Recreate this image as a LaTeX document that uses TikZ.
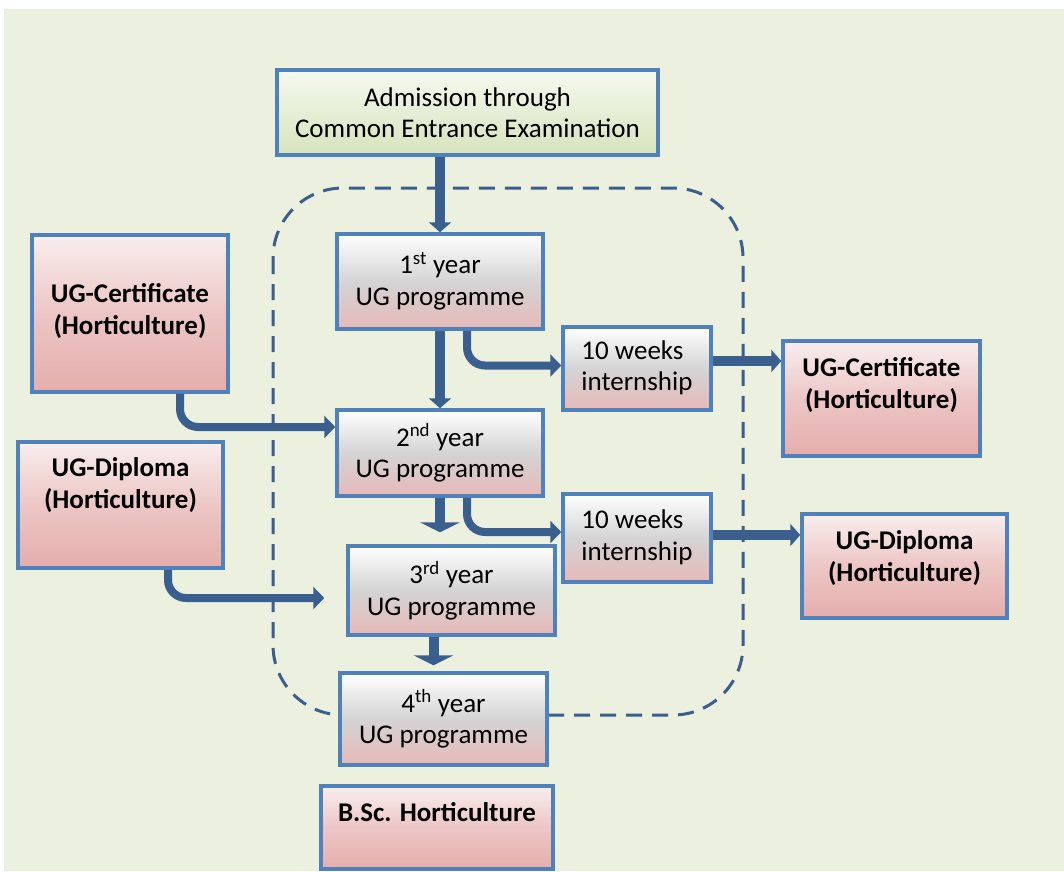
\documentclass[tikz,border=0pt]{standalone}
\usepackage{fontspec}
\setmainfont{Carlito}
\usetikzlibrary{arrows.meta}
\definecolor{pagebg}{HTML}{EBF1DE}
\definecolor{bordc}{HTML}{4F81BD}
\definecolor{arrc}{HTML}{3A5F8E}
\definecolor{yrgray}{HTML}{D4D4D4}
\definecolor{yrpink}{HTML}{E6B9B8}
\definecolor{pktop}{HTML}{F9EEEE}
\definecolor{pkmid}{HTML}{ECC6C5}
\definecolor{pkbot}{HTML}{E4AEAC}
\definecolor{grtop}{HTML}{F6F9F0}
\definecolor{grbot}{HTML}{D6E3BC}
\newcommand\boxfont{\fontsize{27}{31.5}\selectfont}
\tikzset{
  box/.style={draw=bordc, line width=3.5pt, inner sep=0pt, align=center, font=\boxfont},
  greenbox/.style={box, top color=grtop, bottom color=grbot},
  yearbox/.style={box, top color=white, bottom color=yrpink, middle color=yrgray},
  pinkbox/.style={box, top color=pktop, bottom color=pkbot, middle color=pkmid},
  boldtext/.style={inner sep=0pt, align=center, font=\boxfont\bfseries},
  mainarrow/.style={draw=arrc, line width=10pt, -{Triangle[width=22pt,length=10pt]}},
  widearrow/.style={draw=arrc, line width=10pt, -{Triangle[width=40pt,length=10pt]}},
  elbowarrow/.style={draw=arrc, line width=8pt, rounded corners=18pt, -{Triangle[width=22pt,length=11pt]}},
  sidearrow/.style={draw=arrc, line width=10pt, -{Triangle[width=22pt,length=10pt]}},
  groupline/.style={draw=arrc, line width=3pt, dash pattern=on 16pt off 10pt, rounded corners=70pt}
}
\begin{document}
\begin{tikzpicture}[x=1pt,y=-1pt]
  % page and background panel
  \fill[white] (0,0) rectangle (1064,871);
  \useasboundingbox (0,0) rectangle (1064,871);
  \fill[pagebg] (4,9) rectangle (1064,871);

  % dashed outline around the four-year programme
  \draw[groupline] (273,188) rectangle (743,715);

  % boxes
  \node[greenbox, minimum width=381pt, minimum height=85pt] (adm) at (467.5,112.5)
    {Admission through\\Common Entrance Examination};
  \node[yearbox, minimum width=206pt, minimum height=95pt] (y1) at (440,281.5)
    {1\textsuperscript{st} year\\UG programme};
  \node[yearbox, minimum width=206pt, minimum height=86pt] (y2) at (440,453)
    {2\textsuperscript{nd} year\\UG programme};
  \node[yearbox, minimum width=207pt, minimum height=89pt] (y3) at (451.5,590.5)
    {3\textsuperscript{rd} year\\UG programme};
  \node[yearbox, minimum width=207pt, minimum height=92pt] (y4) at (443.5,719)
    {4\textsuperscript{th} year\\UG programme};
  \node[yearbox, minimum width=148pt, minimum height=83pt] (i1) at (637,368.5)
    {\begin{tabular}{@{}l@{}}10 weeks\\internship\end{tabular}};
  \node[yearbox, minimum width=148pt, minimum height=88pt] (i2) at (637,538)
    {\begin{tabular}{@{}l@{}}10 weeks\\internship\end{tabular}};

  \node[pinkbox, minimum width=196pt, minimum height=157pt] (lc) at (130,313.5) {};
  \node[boldtext] (lct) at (130,311) {UG-Certificate\\(Horticulture)};
  \node[pinkbox, minimum width=205pt, minimum height=126pt] (ld) at (120.5,505) {};
  \node[boldtext] (ldt) at (120.5,485) {UG-Diploma\\(Horticulture)};
  \node[pinkbox, minimum width=197pt, minimum height=115pt] (rc) at (881.5,398.5) {};
  \node[boldtext] (rct) at (881.5,385) {UG-Certificate\\(Horticulture)};
  \node[pinkbox, minimum width=205pt, minimum height=104pt] (rd) at (904.5,566) {};
  \node[boldtext] (rdt) at (904.5,558) {UG-Diploma\\(Horticulture)};
  \node[pinkbox, minimum width=232pt, minimum height=83pt] (bsc) at (437,827.5) {};
  \node[boldtext] (bsct) at (437,812) {B.Sc. Horticulture};

  % progression through the years
  \draw[mainarrow] (adm.south -| y1.north) -- (y1.north);
  \draw[mainarrow] (y1.south) -- (y2.north);
  \draw[widearrow, shorten >=12pt] (y2.south) -- (y2.south |- y3.north);
  \draw[widearrow, shorten >=6pt] ([xshift=-18pt]y3.south) -- ([xshift=-18pt]y3.south |- y4.north);

  % internships after the first and second years
  \draw[elbowarrow] ([xshift=27pt]y1.south) |- ([yshift=3pt]i1.west);
  \draw[elbowarrow] ([xshift=27pt]y2.south) |- ([yshift=6pt]i2.west);

  % exit awards
  \draw[sidearrow] ([yshift=7.5pt]i1.east) -- ([yshift=7.5pt]i1.east -| rc.west);
  \draw[sidearrow] ([yshift=3pt]i2.east) -- ([yshift=3pt]i2.east -| rd.west);

  % lateral entry
  \draw[elbowarrow] ([xshift=50pt]lc.south) |- ([yshift=26pt]y2.west);
  \draw[elbowarrow, shorten >=22pt] ([xshift=47.5pt]ld.south) |- ([yshift=-7.5pt]y3.west);
\end{tikzpicture}
\end{document}
